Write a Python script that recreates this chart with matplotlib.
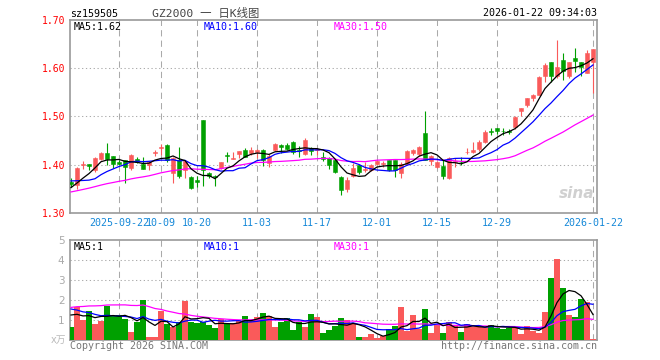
import matplotlib
matplotlib.use('Agg')
import matplotlib.pyplot as plt
import numpy as np
import pandas as pd

# K线数据 (2025-09-10 ~ 2026-01-22, 88 个交易日)
opens = [1.363, 1.357, 1.398, 1.401, 1.389, 1.412, 1.423, 1.417, 1.406, 1.409,
         1.393, 1.411, 1.401, 1.398, 1.424, 1.434, 1.441, 1.383, 1.410, 1.389,
         1.374, 1.368, 1.492, 1.383, 1.376, 1.392, 1.420, 1.411, 1.421, 1.431,
         1.424, 1.426, 1.431, 1.404, 1.430, 1.441, 1.441, 1.447, 1.431, 1.421,
         1.435, 1.430, 1.416, 1.414, 1.410, 1.375, 1.350, 1.376, 1.399, 1.388,
         1.389, 1.401, 1.402, 1.409, 1.409, 1.383, 1.401, 1.423, 1.422, 1.466,
         1.408, 1.395, 1.397, 1.371, 1.406, 1.406, 1.425, 1.427, 1.432, 1.447,
         1.469, 1.476, 1.470, 1.470, 1.478, 1.512, 1.524, 1.539, 1.545, 1.583,
         1.612, 1.583, 1.617, 1.583, 1.621, 1.612, 1.591, 1.612]
highs = [1.371, 1.395, 1.407, 1.401, 1.416, 1.425, 1.444, 1.418, 1.409, 1.410,
         1.421, 1.416, 1.415, 1.407, 1.431, 1.443, 1.443, 1.415, 1.436, 1.410,
         1.376, 1.377, 1.492, 1.384, 1.378, 1.406, 1.426, 1.425, 1.428, 1.434,
         1.436, 1.432, 1.432, 1.421, 1.444, 1.442, 1.444, 1.448, 1.438, 1.455,
         1.437, 1.435, 1.425, 1.416, 1.412, 1.376, 1.374, 1.403, 1.401, 1.405,
         1.402, 1.410, 1.408, 1.410, 1.410, 1.406, 1.430, 1.433, 1.438, 1.511,
         1.420, 1.407, 1.409, 1.416, 1.413, 1.416, 1.435, 1.447, 1.451, 1.472,
         1.475, 1.476, 1.475, 1.474, 1.501, 1.518, 1.538, 1.547, 1.583, 1.610,
         1.612, 1.659, 1.632, 1.613, 1.641, 1.613, 1.638, 1.640]
lows = [1.354, 1.350, 1.390, 1.388, 1.385, 1.410, 1.399, 1.392, 1.398, 1.361,
        1.388, 1.403, 1.390, 1.389, 1.418, 1.420, 1.405, 1.361, 1.372, 1.373,
        1.349, 1.354, 1.355, 1.372, 1.355, 1.391, 1.405, 1.411, 1.413, 1.415,
        1.420, 1.414, 1.397, 1.394, 1.428, 1.424, 1.430, 1.422, 1.415, 1.419,
        1.420, 1.420, 1.407, 1.391, 1.383, 1.336, 1.343, 1.375, 1.380, 1.384,
        1.387, 1.398, 1.395, 1.386, 1.374, 1.371, 1.398, 1.419, 1.417, 1.409,
        1.400, 1.392, 1.369, 1.369, 1.395, 1.398, 1.422, 1.424, 1.428, 1.444,
        1.461, 1.464, 1.462, 1.463, 1.474, 1.501, 1.519, 1.531, 1.544, 1.572,
        1.571, 1.580, 1.576, 1.580, 1.593, 1.584, 1.589, 1.548]
closes = [1.360, 1.393, 1.401, 1.397, 1.414, 1.424, 1.411, 1.402, 1.402, 1.394,
          1.419, 1.405, 1.391, 1.405, 1.426, 1.436, 1.409, 1.413, 1.376, 1.407,
          1.351, 1.363, 1.389, 1.376, 1.374, 1.405, 1.418, 1.413, 1.428, 1.416,
          1.431, 1.431, 1.409, 1.418, 1.443, 1.436, 1.433, 1.426, 1.428, 1.450,
          1.429, 1.432, 1.412, 1.400, 1.385, 1.347, 1.368, 1.393, 1.384, 1.390,
          1.399, 1.408, 1.403, 1.389, 1.388, 1.402, 1.428, 1.431, 1.437, 1.410,
          1.417, 1.405, 1.376, 1.414, 1.407, 1.405, 1.426, 1.430, 1.447, 1.468,
          1.467, 1.469, 1.469, 1.468, 1.499, 1.517, 1.538, 1.545, 1.582, 1.607,
          1.583, 1.602, 1.595, 1.612, 1.614, 1.602, 1.631, 1.639]
volumes = [0.67, 1.67, 1.0, 1.45, 0.8, 0.97, 1.7, 1.2, 1.25, 1.05,
           0.4, 0.9, 2.0, 0.17, 0.17, 1.45, 0.8, 0.67, 0.92, 1.97,
           0.9, 0.87, 0.92, 0.75, 0.62, 1.03, 0.78, 0.87, 0.97, 1.22,
           1.0, 1.17, 1.37, 1.2, 0.67, 0.92, 1.12, 0.5, 0.92, 0.67,
           1.3, 1.17, 0.37, 0.5, 0.7, 1.12, 1.0, 0.83, 0.17, 0.17,
           0.3, 0.12, 0.2, 0.55, 0.7, 1.67, 0.47, 1.25, 0.53, 1.55,
           0.37, 0.75, 0.37, 0.9, 0.75, 0.42, 0.8, 0.67, 0.67, 0.67,
           0.75, 0.62, 0.55, 0.62, 0.62, 0.3, 0.7, 0.45, 0.37, 1.42,
           3.08, 4.05, 2.58, 1.25, 1.13, 2.05, 1.88, 0.05]

# 图表窗口之前的29个交易日 (估计值, 仅用于均线)
pre_closes = [1.318, 1.322, 1.315, 1.320, 1.326, 1.324, 1.330, 1.328, 1.333, 1.330,
              1.336, 1.334, 1.338, 1.335, 1.340, 1.337, 1.342, 1.339, 1.344, 1.342,
              1.39, 1.395, 1.39, 1.385, 1.34, 1.345, 1.35, 1.35, 1.355]
pre_volumes = [0.6, 0.7, 0.65, 0.7, 0.6, 0.75, 1.1, 1.2, 1.0, 1.2,
               1.1, 1.2, 2.6, 3.0, 2.8, 3.2, 2.5, 2.9, 2.7, 2.9,
               2.2, 1.9, 1.8, 1.7, 1.65, 1.5, 1.4, 1.38, 1.3]

tick_idx = [8, 15, 21, 31, 41, 51, 61, 71, 87]
tick_labels = ['2025-09-22', '10-09', '10-20', '11-03', '11-17',
               '12-01', '12-15', '12-29', '2026-01-22']
price_ticks = [1.30, 1.40, 1.50, 1.60, 1.70]
vol_ticks = [1, 2, 3, 4, 5]

RED = '#fa5a5a'
GREEN = '#00a000'
GRID = '#aaaaaa'
MONO = 'DejaVu Sans Mono'

W, H = 660, 360
fig = plt.figure(figsize=(6.6, 3.6), dpi=100)


def px_axes(l, t, r, b):
    return fig.add_axes([l / W, 1 - b / H, (r - l) / W, (b - t) / H])


def px_text(x, y, s, **kw):
    fig.text(x / W, 1 - y / H, s, **kw)


ax = px_axes(70, 20, 597, 212.7)
axv = px_axes(70, 240, 597, 340)

o = np.array(opens); h = np.array(highs); l = np.array(lows); c = np.array(closes)
v = np.array(volumes)
x = np.arange(len(c))
cols = np.where(c >= o, RED, GREEN)

# 均线
cs = pd.Series(pre_closes + closes)
vs = pd.Series(pre_volumes + volumes)
n0 = len(pre_closes)

for a in (ax, axv):
    a.set_xlim(-1 / 6, 526 / 6)
    for t in tick_idx:
        a.axvline(t, color=GRID, lw=0.75, ls=(0, (6, 4)), zorder=0)
    for s in a.spines.values():
        s.set_color('#999999')
        s.set_linewidth(1.2)
    a.tick_params(length=0)

# 价格
ax.set_ylim(1.30, 1.70)
for p in price_ticks[1:-1]:
    ax.axhline(p, color=GRID, lw=0.75, ls=(0, (1.2, 2.5)), zorder=0)
ax.vlines(x, l, h, colors=cols, lw=0.8, zorder=2)
body = np.maximum(np.abs(c - o), 0.0012)
ax.bar(x, body, bottom=np.minimum(o, c), width=0.68, color=cols,
       edgecolor=cols, linewidth=0.4, zorder=3)
for n, col in [(30, '#ff00ff'), (10, '#0000ff'), (5, 'black')]:
    ma = cs.rolling(n).mean().values[n0:]
    ax.plot(x, ma, color=col, lw=0.9, zorder=4)

ax.set_yticks(price_ticks)
ax.set_yticklabels(['%.2f' % p for p in price_ticks], color='red',
                   fontsize=7, family=MONO)
ax.tick_params(axis='y', pad=3)
ax.set_xticks(tick_idx)
ax.set_xticklabels(tick_labels, color='#1588d8', fontsize=7.2, family=MONO)
ax.tick_params(axis='x', pad=3.5)

# 成交量
axv.set_ylim(0, 5)
for q in vol_ticks[:-1]:
    axv.axhline(q, color=GRID, lw=0.75, ls=(0, (1.2, 2.5)), zorder=0)
axv.bar(x, v, width=0.86, color=cols, zorder=3)
for n, col in [(30, '#ff00ff'), (10, '#0000ff'), (5, 'black')]:
    ma = vs.rolling(n).mean().values[n0:]
    axv.plot(x, ma, color=col, lw=0.9, zorder=4)
axv.set_yticks(vol_ticks)
axv.set_yticklabels([str(q) for q in vol_ticks], color='#aaaaaa', fontsize=7.5)
axv.tick_params(axis='y', pad=4)
axv.set_xticks([])

# 文字
px_text(70, 14, 'sz159505', fontsize=7.2, family=MONO, va='center')
px_text(206, 13, 'GZ2000 一 日K线图', fontsize=8.2, color='#444444',
        family=[MONO, 'Noto Sans CJK SC'], ha='center', va='center')
px_text(597, 13, '2026-01-22 09:34:03', fontsize=7.2, family=MONO,
        ha='right', va='center')

px_text(74, 27, 'MA5:1.62', fontsize=7.2, family=MONO, va='center')
px_text(204, 27, 'MA10:1.60', fontsize=7.2, family=MONO, va='center', color='#0000ff')
px_text(334, 27, 'MA30:1.50', fontsize=7.2, family=MONO, va='center', color='#ff00ff')
px_text(74, 246.5, 'MA5:1', fontsize=7.2, family=MONO, va='center')
px_text(204, 246.5, 'MA10:1', fontsize=7.2, family=MONO, va='center', color='#0000ff')
px_text(334, 246.5, 'MA30:1', fontsize=7.2, family=MONO, va='center', color='#ff00ff')

px_text(66, 340, 'x万', fontsize=7, color='#bbbbbb', ha='right', va='center',
        family=['DejaVu Sans', 'Noto Sans CJK SC'])
px_text(70, 346, 'Copyright 2026 SINA.COM', fontsize=7.2, family=MONO,
        color='#777777', va='center')
px_text(597, 346, 'http://finance.sina.com.cn', fontsize=7.2, family=MONO,
        color='#777777', ha='right', va='center')
px_text(594, 194, 'sina', fontsize=11, fontweight='bold', style='italic',
        color='#d0d0d0', ha='right', va='center')

fig.savefig('out.png', dpi=100)
